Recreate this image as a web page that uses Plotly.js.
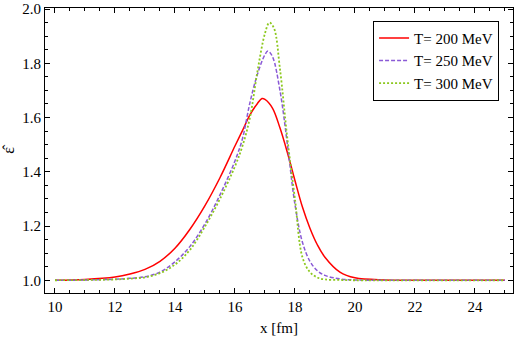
<!DOCTYPE html>
<html>
<head>
<meta charset="utf-8">
<script src="https://cdn.plot.ly/plotly-3.0.1.min.js"></script>
<style>
  body { margin: 0; background: #fff; }
  #chart { width: 518px; height: 341px; }
</style>
</head>
<body>
<div id="chart"></div>
<script>
// values
var xRed = [10, 11, 12, 12.5, 13, 13.5, 14, 14.5, 15, 15.5, 16, 16.25, 16.5, 16.75, 16.9, 17, 17.25, 17.5, 17.75, 18, 18.25, 18.5, 18.75, 19, 19.5, 20, 21, 22, 25];
var yRed = [1.000, 1.003, 1.012, 1.023, 1.040, 1.070, 1.118, 1.188, 1.275, 1.378, 1.495, 1.552, 1.610, 1.652, 1.670, 1.667, 1.635, 1.562, 1.470, 1.368, 1.270, 1.192, 1.130, 1.085, 1.030, 1.009, 1.001, 1.000, 1.000];

var xPurple = [10, 11, 12, 12.5, 13, 13.5, 14, 14.5, 15, 15.5, 16, 16.25, 16.5, 16.75, 17, 17.1, 17.25, 17.5, 17.75, 18, 18.25, 18.5, 18.75, 19, 19.5, 20, 21, 25];
var yPurple = [1.000, 1.001, 1.004, 1.007, 1.013, 1.030, 1.068, 1.125, 1.208, 1.315, 1.440, 1.522, 1.655, 1.760, 1.832, 1.845, 1.825, 1.700, 1.500, 1.280, 1.140, 1.070, 1.035, 1.018, 1.005, 1.001, 1.000, 1.000];

var xGreen = [10, 11, 12, 12.5, 13, 13.5, 14, 14.5, 15, 15.5, 16, 16.25, 16.5, 16.75, 17, 17.15, 17.3, 17.5, 17.75, 18, 18.25, 18.5, 18.75, 19, 19.5, 20, 25];
var yGreen = [1.000, 1.001, 1.003, 1.006, 1.011, 1.026, 1.058, 1.112, 1.198, 1.300, 1.420, 1.495, 1.600, 1.770, 1.910, 1.950, 1.930, 1.780, 1.520, 1.300, 1.085, 1.030, 1.010, 1.003, 1.001, 1.000, 1.000];

var seriesNames = ['T= 200 MeV', 'T= 250 MeV', 'T= 300 MeV'];
var yTicks = [1.0, 1.2, 1.4, 1.6, 1.8, 2.0];
var yTickText = ['1.0', '1.2', '1.4', '1.6', '1.8', '2.0'];

var serif = 'Liberation Serif, Times New Roman, serif';

var data = [
    {
        x: xRed, y: yRed, name: seriesNames[0], mode: 'lines', type: 'scatter',
        line: { color: '#ff0000', width: 1.5, shape: 'spline', smoothing: 1 }
    },
    {
        x: xPurple, y: yPurple, name: seriesNames[1], mode: 'lines', type: 'scatter',
        line: { color: '#8a5ad6', width: 1.5, dash: '4px,2px', shape: 'spline', smoothing: 1 }
    },
    {
        x: xGreen, y: yGreen, name: seriesNames[2], mode: 'lines', type: 'scatter',
        line: { color: '#8cc81e', width: 1.8, dash: '2px,2px', shape: 'spline', smoothing: 1 }
    }
];

var axisCommon = {
    showline: true, linecolor: '#000', linewidth: 1, mirror: 'allticks',
    ticks: 'inside', ticklen: 5, tickcolor: '#000', tickwidth: 1,
    showgrid: false, zeroline: false,
    tickfont: { family: serif, size: 15, color: '#000' }
};

var layout = {
    width: 518, height: 341,
    margin: { l: 45, r: 5, t: 8, b: 48 },
    paper_bgcolor: '#fff', plot_bgcolor: '#fff',
    font: { family: serif, color: '#000' },
    xaxis: Object.assign({}, axisCommon, {
        range: [9.667, 25.27], dtick: 2, tick0: 10,
        minor: { dtick: 0.5, ticks: 'inside', ticklen: 3, tickcolor: '#000' },
        title: { text: 'x [fm]', font: { family: serif, size: 15 }, standoff: 8 }
    }),
    yaxis: Object.assign({}, axisCommon, {
        range: [0.953, 2.004], tickmode: 'array', tickvals: yTicks, ticktext: yTickText,
        minor: { tickmode: 'linear', tick0: 1.0, dtick: 0.05, ticks: 'inside', ticklen: 3, tickcolor: '#000' },
        title: { text: 'ε̂', font: { family: serif, size: 16 }, standoff: 8 }
    }),
    legend: {
        x: 0.701, y: 0.955, xanchor: 'left', yanchor: 'top',
        bordercolor: '#000', borderwidth: 1, bgcolor: '#fff',
        font: { family: serif, size: 15, color: '#000' }
    },
    showlegend: true
};

Plotly.newPlot('chart', data, layout, { displayModeBar: false, staticPlot: true });
</script>
</body>
</html>
